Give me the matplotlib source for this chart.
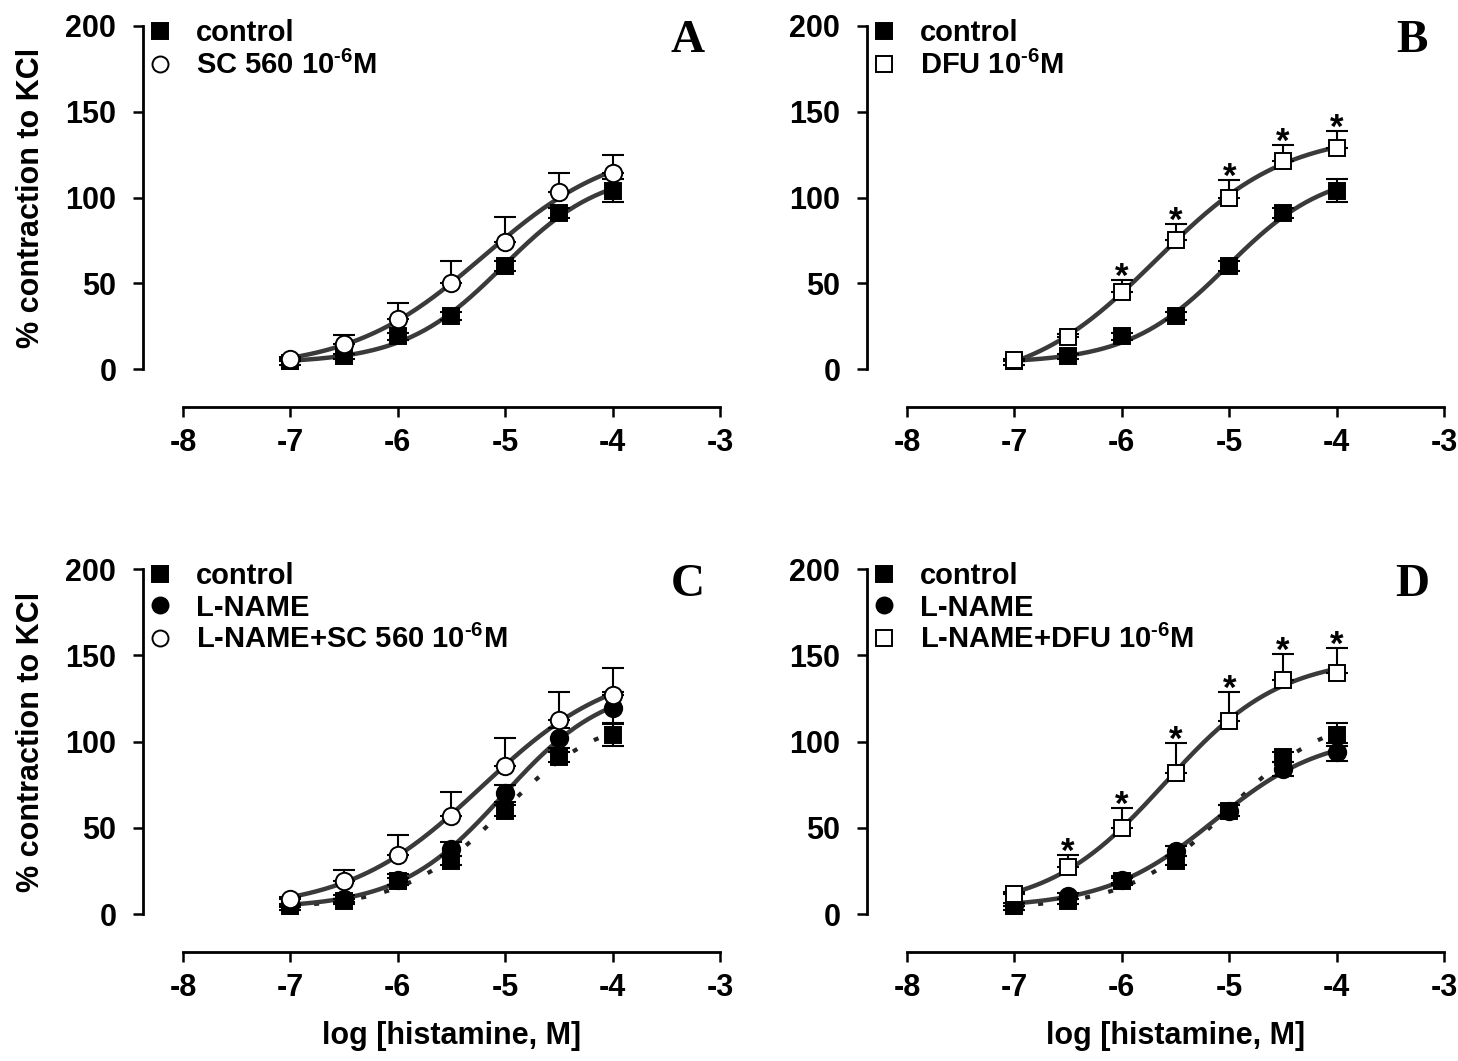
import numpy as np
import matplotlib
matplotlib.use("Agg")
import matplotlib.pyplot as plt
from matplotlib.lines import Line2D

plt.rcParams['font.family'] = ['Liberation Sans', 'DejaVu Sans']
plt.rcParams['font.weight'] = 'bold'
plt.rcParams['axes.unicode_minus'] = False
plt.rcParams['mathtext.fontset'] = 'custom'
plt.rcParams['mathtext.rm'] = 'Liberation Sans:bold'
plt.rcParams['mathtext.bf'] = 'Liberation Sans:bold'
plt.rcParams['mathtext.default'] = 'rm'

# log [histamine, M]
log_conc = [-7, -6.5, -6, -5.5, -5, -4.5, -4]

control_mean = [3.5, 7.5, 19, 31, 60, 91, 104]
control_sem = [1, 1.5, 2, 2.5, 3, 3, 6.5]

sc560_mean = [6, 14.5, 29, 50, 74, 103, 114]
sc560_sem = [1, 5.5, 9.5, 13, 14.5, 11, 11]

dfu_mean = [5, 18.5, 45, 75, 100, 121, 129]
dfu_sem = [1, 2, 7, 9.5, 10, 9.5, 10]
dfu_signif = [False, False, True, True, True, True, True]

lname_c_mean = [5, 9, 20, 37.5, 70, 102, 119.5]
lname_c_sem = [1, 2, 3, 4, 5, 6, 9.5]
lname_sc560_mean = [9, 19, 34.5, 57, 86, 112.5, 127]
lname_sc560_sem = [1, 6.5, 11.5, 13.5, 16, 16.5, 15.5]

lname_d_mean = [5.5, 10.5, 20, 36.5, 60, 84, 94]
lname_d_sem = [1, 1.5, 2, 3, 3, 4, 5]
lname_dfu_mean = [11.5, 27, 50, 82, 112, 135.5, 140]
lname_dfu_sem = [1, 7.5, 11.5, 17, 16.5, 15.5, 14.5]
lname_dfu_signif = [False, True, True, True, True, True, True]

FS = 22
LEG_FS = 21
CURVE = '#3a3a3a'
SUP = r'$^{\text{-6}}$'


def fit_logistic(x, y):
    # least squares 4-parameter logistic, grid on ec50/slope, linear for bottom/span
    x = np.asarray(x, float)
    y = np.asarray(y, float)
    ec50 = np.linspace(-7.0, -4.0, 151)[:, None, None]
    slope = np.linspace(0.3, 2.5, 111)[None, :, None]
    f = 1 / (1 + 10 ** ((ec50 - x) * slope))
    fm = f.mean(-1, keepdims=True)
    ym = y.mean()
    span = ((f - fm) * (y - ym)).sum(-1) / ((f - fm) ** 2).sum(-1)
    bottom = ym - span * fm[..., 0]
    resid = ((bottom[..., None] + span[..., None] * f - y) ** 2).sum(-1)
    i, j = np.unravel_index(resid.argmin(), resid.shape)
    return bottom[i, j], span[i, j], ec50[i, 0, 0], slope[0, j, 0]


def draw_curve(ax, y, ls='-'):
    b, s, e, n = fit_logistic(log_conc, y)
    xx = np.linspace(log_conc[0], log_conc[-1], 200)
    yy = b + s / (1 + 10 ** ((e - xx) * n))
    if ls == '-':
        ax.plot(xx, yy, color=CURVE, lw=3.2, zorder=2, solid_capstyle='butt')
    else:
        ax.plot(xx, yy, color='#222222', lw=3.0, ls=(0, (1.2, 4.5)), zorder=2)


def draw_series(ax, mean, sem, marker, filled, upper_only=False, z=4):
    mean = np.asarray(mean, float)
    sem = np.asarray(sem, float)
    if upper_only:
        yerr = [np.zeros_like(sem), sem]
    else:
        yerr = [sem, sem]
    ax.errorbar(log_conc, mean, yerr=yerr, fmt='none', ecolor='black',
                elinewidth=1.5, capsize=8, capthick=1.5, zorder=z - 0.5)
    ms = 11.5 if marker == 's' else 12.5
    ax.plot(log_conc, mean, ls='none', marker=marker, ms=ms,
            mfc='black' if filled else 'white', mec='black', mew=1.4, zorder=z)


def add_stars(ax, mean, sem, signif):
    for x, m, s, sig in zip(log_conc, mean, sem, signif):
        if sig:
            ax.annotate('*', (x, m + s), xytext=(0, -5), textcoords='offset points',
                        ha='center', va='baseline', fontsize=25, fontweight='bold')


def style_axes(ax, letter, xlabel=False):
    ax.set_xlim(-8, -3)
    ax.set_ylim(0, 200)
    for side in ('top', 'right'):
        ax.spines[side].set_visible(False)
    ax.spines['left'].set_position(('outward', 29))
    ax.spines['bottom'].set_position(('outward', 27.5))
    ax.spines['left'].set_linewidth(2)
    ax.spines['bottom'].set_linewidth(2)
    ax.set_xticks([-8, -7, -6, -5, -4, -3])
    ax.set_yticks([0, 50, 100, 150, 200])
    ax.tick_params(axis='both', direction='out', length=7, width=1.8, labelsize=FS)
    ax.tick_params(axis='y', pad=12)
    ax.tick_params(axis='x', pad=8)
    for lab in ax.get_xticklabels() + ax.get_yticklabels():
        lab.set_fontweight('bold')
    ax.text(0.94, 0.955, letter, transform=ax.transAxes, ha='center', va='center',
            fontsize=34, fontweight='bold', family='Liberation Serif')
    if xlabel:
        ax.set_xlabel('log [histamine, M]', fontsize=22, fontweight='bold')
        ax.xaxis.set_label_coords(0.5, -0.31)
        ax.xaxis.label.set_va('top')


def add_legend(ax, entries):
    handles = []
    labels = []
    for marker, filled, label in entries:
        handles.append(Line2D([], [], ls='none', marker=marker, ms=11 if marker == 's' else 11.5,
                              mfc='black' if filled else 'white', mec='black', mew=1.4))
        labels.append(label)
    ax.legend(handles, labels, loc='upper left', bbox_to_anchor=(-0.066, 1.02),
              frameon=False, borderpad=0, borderaxespad=0, handlelength=0.85,
              handletextpad=0.8, labelspacing=0.12,
              prop={'weight': 'bold', 'size': LEG_FS})


fig = plt.figure(figsize=(14.58, 10.61), dpi=100)
ax_a = fig.add_axes([0.1255, 0.6522, 0.3683, 0.3233])
ax_b = fig.add_axes([0.6221, 0.6522, 0.3683, 0.3233])
ax_c = fig.add_axes([0.1255, 0.1385, 0.3683, 0.3252])
ax_d = fig.add_axes([0.6221, 0.1385, 0.3683, 0.3252])

# A
draw_curve(ax_a, control_mean)
draw_curve(ax_a, sc560_mean)
draw_series(ax_a, control_mean, control_sem, 's', True, z=4)
draw_series(ax_a, sc560_mean, sc560_sem, 'o', False, upper_only=True, z=5)
style_axes(ax_a, 'A')
add_legend(ax_a, [('s', True, 'control'), ('o', False, 'SC 560 10' + SUP + 'M')])
ax_a.set_ylabel('% contraction to KCl', fontsize=22, fontweight='bold')
ax_a.yaxis.set_label_coords(-0.255, 0.5)

# B
draw_curve(ax_b, control_mean)
draw_curve(ax_b, dfu_mean)
draw_series(ax_b, control_mean, control_sem, 's', True, z=4)
draw_series(ax_b, dfu_mean, dfu_sem, 's', False, upper_only=True, z=5)
add_stars(ax_b, dfu_mean, dfu_sem, dfu_signif)
style_axes(ax_b, 'B')
add_legend(ax_b, [('s', True, 'control'), ('s', False, 'DFU 10' + SUP + 'M')])

# C
draw_curve(ax_c, control_mean, ls=':')
draw_curve(ax_c, lname_c_mean)
draw_curve(ax_c, lname_sc560_mean)
draw_series(ax_c, control_mean, control_sem, 's', True, z=4)
draw_series(ax_c, lname_c_mean, lname_c_sem, 'o', True, z=5)
draw_series(ax_c, lname_sc560_mean, lname_sc560_sem, 'o', False, upper_only=True, z=6)
style_axes(ax_c, 'C', xlabel=True)
add_legend(ax_c, [('s', True, 'control'), ('o', True, 'L-NAME'),
                  ('o', False, 'L-NAME+SC 560 10' + SUP + 'M')])
ax_c.set_ylabel('% contraction to KCl', fontsize=22, fontweight='bold')
ax_c.yaxis.set_label_coords(-0.255, 0.5)

# D
draw_curve(ax_d, control_mean, ls=':')
draw_curve(ax_d, lname_d_mean)
draw_curve(ax_d, lname_dfu_mean)
draw_series(ax_d, control_mean, control_sem, 's', True, z=4)
draw_series(ax_d, lname_d_mean, lname_d_sem, 'o', True, z=5)
draw_series(ax_d, lname_dfu_mean, lname_dfu_sem, 's', False, upper_only=True, z=6)
add_stars(ax_d, lname_dfu_mean, lname_dfu_sem, lname_dfu_signif)
style_axes(ax_d, 'D', xlabel=True)
add_legend(ax_d, [('s', True, 'control'), ('o', True, 'L-NAME'),
                  ('s', False, 'L-NAME+DFU 10' + SUP + 'M')])

fig.savefig('out.png', dpi=100)
